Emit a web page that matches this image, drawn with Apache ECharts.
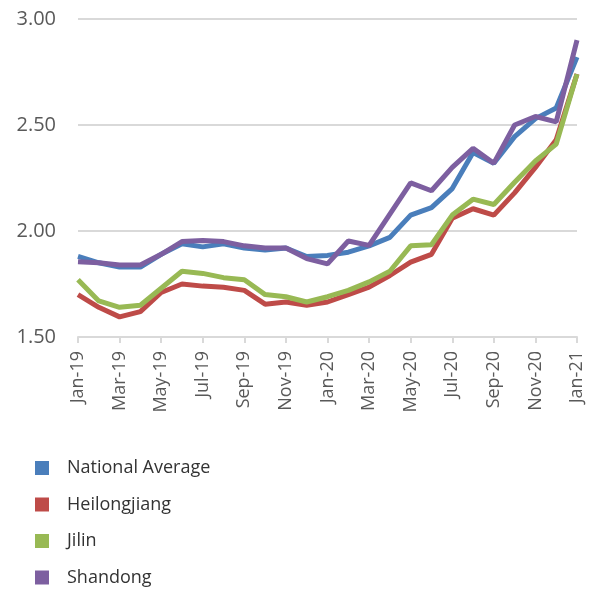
<!DOCTYPE html>
<html>
<head>
<meta charset="utf-8">
<script src="https://cdn.jsdelivr.net/npm/echarts@6/dist/echarts.min.js"></script>
<style>html,body{margin:0;padding:0;background:#fff}#c{width:600px;height:590px}</style>
</head>
<body>
<div id="c"></div>
<script>
var months = ["Jan-19","Feb-19","Mar-19","Apr-19","May-19","Jun-19","Jul-19","Aug-19","Sep-19","Oct-19","Nov-19","Dec-19",
              "Jan-20","Feb-20","Mar-20","Apr-20","May-20","Jun-20","Jul-20","Aug-20","Sep-20","Oct-20","Nov-20","Dec-20","Jan-21"];
var nationalAverage = [1.88,1.85,1.83,1.83,1.89,1.94,1.925,1.94,1.92,1.91,1.92,1.88,1.885,1.90,1.93,1.97,2.075,2.11,2.20,2.37,2.32,2.445,2.53,2.58,2.82];
var heilongjiang    = [1.70,1.64,1.595,1.62,1.71,1.75,1.74,1.735,1.72,1.655,1.665,1.65,1.665,1.70,1.735,1.79,1.853,1.89,2.06,2.105,2.075,2.18,2.30,2.43,2.74];
var jilin           = [1.77,1.67,1.64,1.65,1.73,1.81,1.80,1.78,1.77,1.70,1.69,1.665,1.69,1.72,1.76,1.81,1.93,1.935,2.075,2.15,2.125,2.23,2.33,2.41,2.74];
var shandong        = [1.855,1.85,1.84,1.84,1.89,1.95,1.955,1.95,1.93,1.92,1.92,1.87,1.845,1.953,1.932,2.08,2.227,2.19,2.30,2.39,2.32,2.50,2.54,2.515,2.90];
var yTicks = [1.5, 2.0, 2.5, 3.0];

var names = ["National Average","Heilongjiang","Jilin","Shandong"];
var colors = ["#4a7ebb","#be4b48","#98b954","#7d5fa0"];
var datas = [nationalAverage, heilongjiang, jilin, shandong];

var chart = echarts.init(document.getElementById('c'));
chart.setOption({
  animation: false,
  color: colors,
  grid: {left: 78, right: 23, top: 19, bottom: 253, containLabel: false},
  legend: {
    orient: 'vertical', left: 35, top: 458, padding: 0,
    icon: 'rect', itemWidth: 14, itemHeight: 14, itemGap: 16.5,
    data: names,
    textStyle: {fontFamily: 'Open Sans', fontSize: 18, color: '#333', lineHeight: 20, padding: [0,0,0,13]}
  },
  xAxis: {
    type: 'category', boundaryGap: false, data: months,
    axisLine: {lineStyle: {color: '#d9d9d9', width: 2}},
    axisTick: {interval: 1, length: 6, lineStyle: {color: '#d9d9d9', width: 2}},
    axisLabel: {interval: 1, rotate: 90, margin: 14, fontFamily: 'Open Sans', fontSize: 18, color: '#595959'},
    splitLine: {show: false}
  },
  yAxis: {
    type: 'value', min: yTicks[0], max: yTicks[yTicks.length-1], interval: 0.5,
    axisLine: {show: false}, axisTick: {show: false},
    axisLabel: {margin: 22, fontFamily: 'Open Sans', fontSize: 20, color: '#595959',
      formatter: function(v){ return v.toFixed(2); }},
    splitLine: {lineStyle: {color: '#d9d9d9', width: 2}}
  },
  series: names.map(function(n, i){
    return {name: n, type: 'line', data: datas[i], symbol: 'none',
      lineStyle: {width: 5, color: colors[i]}, itemStyle: {color: colors[i]}};
  })
});
</script>
</body>
</html>
